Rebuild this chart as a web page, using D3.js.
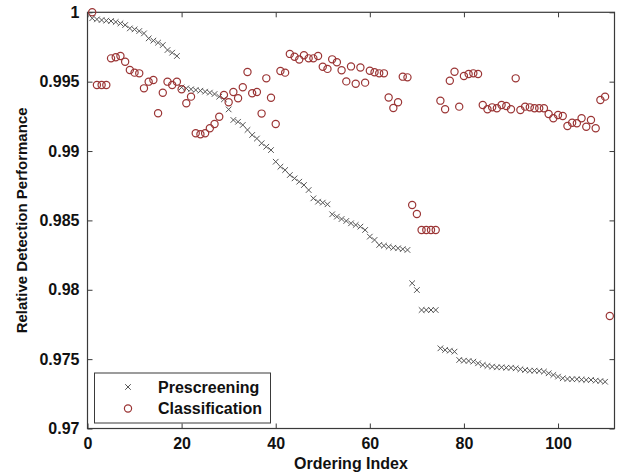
<!DOCTYPE html>
<html>
<head>
<meta charset="utf-8">
<script src="https://cdn.jsdelivr.net/npm/d3@7"></script>
<style>
  html, body { margin: 0; padding: 0; background: #fff; }
  svg { display: block; }
  text { font-family: "Liberation Sans", Arial, sans-serif; font-weight: bold; fill: #111; }
</style>
</head>
<body>
<svg id="chart" width="621" height="476"></svg>
<script>
// ---- data ----
const prescreening = [
  0.99957,0.99949,0.99944,0.99940,0.99937,0.99930,0.99920,0.99908,0.99884,0.99877,
  0.99865,0.99848,0.99812,0.99796,0.99781,0.99764,0.99728,0.99709,0.99685,0.99459,
  0.99452,0.99445,0.99440,0.99435,0.99428,0.99421,0.99411,0.99392,0.99373,0.99300,
  0.99224,0.99211,0.99188,0.99152,0.99116,0.99090,0.99056,0.99031,0.99007,0.98923,
  0.98887,0.98863,0.98827,0.98803,0.98779,0.98755,0.98719,0.98659,0.98635,0.98628,
  0.98616,0.98544,0.98527,0.98510,0.98496,0.98479,0.98467,0.98455,0.98431,0.98383,
  0.98359,0.98323,0.98318,0.98310,0.98303,0.98299,0.98293,0.98287,0.98047,0.97998,
  0.97854,0.97854,0.97854,0.97854,0.97578,0.97566,0.97561,0.97554,0.97494,0.97489,
  0.97487,0.97482,0.97470,0.97458,0.97451,0.97446,0.97441,0.97441,0.97438,0.97438,
  0.97434,0.97427,0.97422,0.97417,0.97417,0.97415,0.97410,0.97398,0.97386,0.97374,
  0.97362,0.97357,0.97355,0.97355,0.97352,0.97350,0.97350,0.97345,0.97342,0.97337
];
const classification = [
  1.00000,0.99476,0.99476,0.99476,0.99668,0.99676,0.99685,0.99644,0.99584,0.99565,
  0.99560,0.99452,0.99500,0.99512,0.99272,0.99420,0.99500,0.99476,0.99500,0.99445,
  0.99344,0.99392,0.99128,0.99121,0.99128,0.99164,0.99195,0.99247,0.99404,0.99352,
  0.99425,0.99380,0.99460,0.99570,0.99416,0.99425,0.99270,0.99524,0.99384,0.99195,
  0.99577,0.99565,0.99700,0.99680,0.99660,0.99690,0.99668,0.99668,0.99685,0.99608,
  0.99592,0.99661,0.99640,0.99582,0.99502,0.99610,0.99485,0.99602,0.99493,0.99579,
  0.99568,0.99560,0.99560,0.99386,0.99310,0.99352,0.99536,0.99531,0.98611,0.98546,
  0.98431,0.98431,0.98431,0.98431,0.99363,0.99301,0.99507,0.99572,0.99320,0.99541,
  0.99555,0.99560,0.99555,0.99332,0.99301,0.99315,0.99308,0.99332,0.99325,0.99301,
  0.99524,0.99296,0.99320,0.99315,0.99308,0.99308,0.99308,0.99267,0.99236,0.99260,
  0.99253,0.99180,0.99204,0.99200,0.99236,0.99175,0.99224,0.99164,0.99368,0.99392,
  0.97811
];
const prescreeningIndex = d3.range(1, prescreening.length + 1);
const classificationIndex = d3.range(1, classification.length + 1);
const xTicks = [0, 20, 40, 60, 80, 100];
const xTickLabels = ["0", "20", "40", "60", "80", "100"];
const yTicks = [0.97, 0.975, 0.98, 0.985, 0.99, 0.995, 1];
const yTickLabels = ["0.97", "0.975", "0.98", "0.985", "0.99", "0.995", "1"];
const seriesNames = ["Prescreening", "Classification"];
const xTitle = "Ordering Index";
const yTitle = "Relative Detection Performance";

// ---- layout ----
const L = 87.5, R = 614.5, T = 12.3, B = 428.5;
const svg = d3.select("#chart");
svg.append("rect").attr("width", 621).attr("height", 476).attr("fill", "#fff");

const x = d3.scaleLinear().domain([0, 112]).range([L, R]);
const y = d3.scaleLinear().domain([0.97, 1]).range([B, T]);

const axisColor = "#3a3a3a";
function styleAxis(g) {
  g.select(".domain").remove();
  g.selectAll(".tick line").attr("stroke", axisColor).attr("stroke-width", 1);
  g.selectAll(".tick text").attr("font-size", 16).attr("font-family", "Liberation Sans, Arial, sans-serif")
    .attr("font-weight", "bold").attr("fill", "#111");
}

svg.append("g").attr("transform", `translate(0,${B})`)
  .call(d3.axisBottom(x).tickValues(xTicks).tickFormat((d, i) => xTickLabels[i]).tickSize(-5).tickPadding(9))
  .call(styleAxis);
svg.append("g").attr("transform", `translate(0,${T})`)
  .call(d3.axisTop(x).tickValues(xTicks).tickFormat("").tickSize(-5))
  .call(styleAxis);
svg.append("g").attr("transform", `translate(${L},0)`)
  .call(d3.axisLeft(y).tickValues(yTicks).tickFormat((d, i) => yTickLabels[i]).tickSize(-5).tickPadding(8))
  .call(styleAxis);
svg.append("g").attr("transform", `translate(${R},0)`)
  .call(d3.axisRight(y).tickValues(yTicks).tickFormat("").tickSize(-5))
  .call(styleAxis);

svg.append("rect").attr("x", L).attr("y", T).attr("width", R - L).attr("height", B - T)
  .attr("fill", "none").attr("stroke", axisColor).attr("stroke-width", 1.2);

// ---- marks ----
const xSize = 2.8;
const crossColor = "#555";
const circleColor = "#9b3535";

const gP = svg.append("g");
gP.selectAll("path").data(prescreening).join("path")
  .attr("d", (d, i) => {
    const cx = x(prescreeningIndex[i]), cy = y(d);
    return `M${cx - xSize},${cy - xSize}L${cx + xSize},${cy + xSize}M${cx - xSize},${cy + xSize}L${cx + xSize},${cy - xSize}`;
  })
  .attr("stroke", crossColor).attr("stroke-width", 1).attr("fill", "none");

const gC = svg.append("g");
gC.selectAll("circle").data(classification).join("circle")
  .attr("cx", (d, i) => x(classificationIndex[i]))
  .attr("cy", d => y(d))
  .attr("r", 3.6)
  .attr("fill", "none").attr("stroke", circleColor).attr("stroke-width", 1.2);

// ---- titles ----
svg.append("text").attr("x", (L + R) / 2).attr("y", 469).attr("text-anchor", "middle")
  .attr("font-size", 16).text(xTitle);
svg.append("text").attr("transform", `translate(27,${(T + B) / 2}) rotate(-90)`).attr("text-anchor", "middle")
  .attr("font-size", 15).text(yTitle);

// ---- legend ----
const leg = svg.append("g");
leg.append("rect").attr("x", 94.5).attr("y", 373).attr("width", 176).attr("height", 50)
  .attr("fill", "#fff").attr("stroke", axisColor).attr("stroke-width", 1);
const legY = [387, 408.5];
const lx = 128;
leg.append("path")
  .attr("d", `M${lx - xSize},${legY[0] - xSize}L${lx + xSize},${legY[0] + xSize}M${lx - xSize},${legY[0] + xSize}L${lx + xSize},${legY[0] - xSize}`)
  .attr("stroke", crossColor).attr("stroke-width", 1);
leg.append("circle").attr("cx", lx).attr("cy", legY[1]).attr("r", 3.6)
  .attr("fill", "none").attr("stroke", circleColor).attr("stroke-width", 1.2);
leg.selectAll("text.lbl").data(seriesNames).join("text").attr("class", "lbl")
  .attr("x", 158).attr("y", (d, i) => legY[i]).attr("dy", "0.36em")
  .attr("font-size", 16).text(d => d);
</script>
</body>
</html>
